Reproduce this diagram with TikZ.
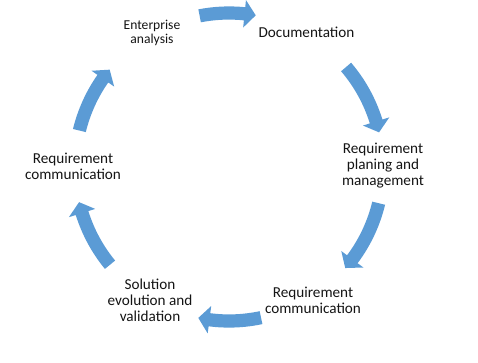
\documentclass[tikz,border=0pt]{standalone}
\usepackage{fontspec}
\setmainfont{Carlito}
\usepackage{xcolor}
\definecolor{cycblue}{RGB}{91,155,213}
\definecolor{cyctext}{RGB}{20,20,20}
\usetikzlibrary{arrows.meta,positioning,calc}
\tikzset{
  steplabel/.style={font=\fontsize{15.2}{16}\selectfont, text=cyctext, align=center, inner sep=0pt},
  smalllabel/.style={font=\fontsize{13.6}{14.6}\selectfont, text=cyctext, align=center, inner sep=0pt},
  cycarrow/.style={fill=cycblue}
}
% curved block arrow: tail angle, tip angle (clockwise)
\newcommand{\cyclearrow}[2]{%
  \pgfmathsetmacro{\hb}{#2+4.2}%
  \fill[cycarrow] (#1:160.6pt) arc[start angle=#1, end angle=\hb, radius=160.6pt]
    -- (\hb:167.8pt) -- (#2:154pt) -- (\hb:140.2pt) -- (\hb:147.4pt)
    arc[start angle=\hb, end angle=#1, radius=147.4pt] -- cycle;}

\begin{document}
\begin{tikzpicture}[x=1pt,y=1pt]
  \useasboundingbox (0,0) rectangle (478,362);
  \coordinate (hub) at (229,195);

  % Step labels
  \node[smalllabel] (ent) at (152,329) {Enterprise\\analysis};
  \node[steplabel] (doc) at (306.5,330) {Documentation};
  \node[steplabel] (rpm) at (383,196) {Requirement\\planing and\\management};
  \node[steplabel] (rcr) at (313,62) {Requirement\\communication};
  \node[steplabel] (sev) at (150,62) {Solution\\evolution and\\validation};
  \node[steplabel] (rcl) at (73,196) {Requirement\\communication};

  % Cycle arrows
  \begin{scope}[shift={(hub)}]
    \cyclearrow{101}{80}
    \cyclearrow{40.5}{13}
    \cyclearrow{-13.6}{-41}
    \cyclearrow{-78}{-101.5}
    \cyclearrow{-140.6}{-166.8}
    \cyclearrow{166.3}{140.8}
  \end{scope}
\end{tikzpicture}
\end{document}
